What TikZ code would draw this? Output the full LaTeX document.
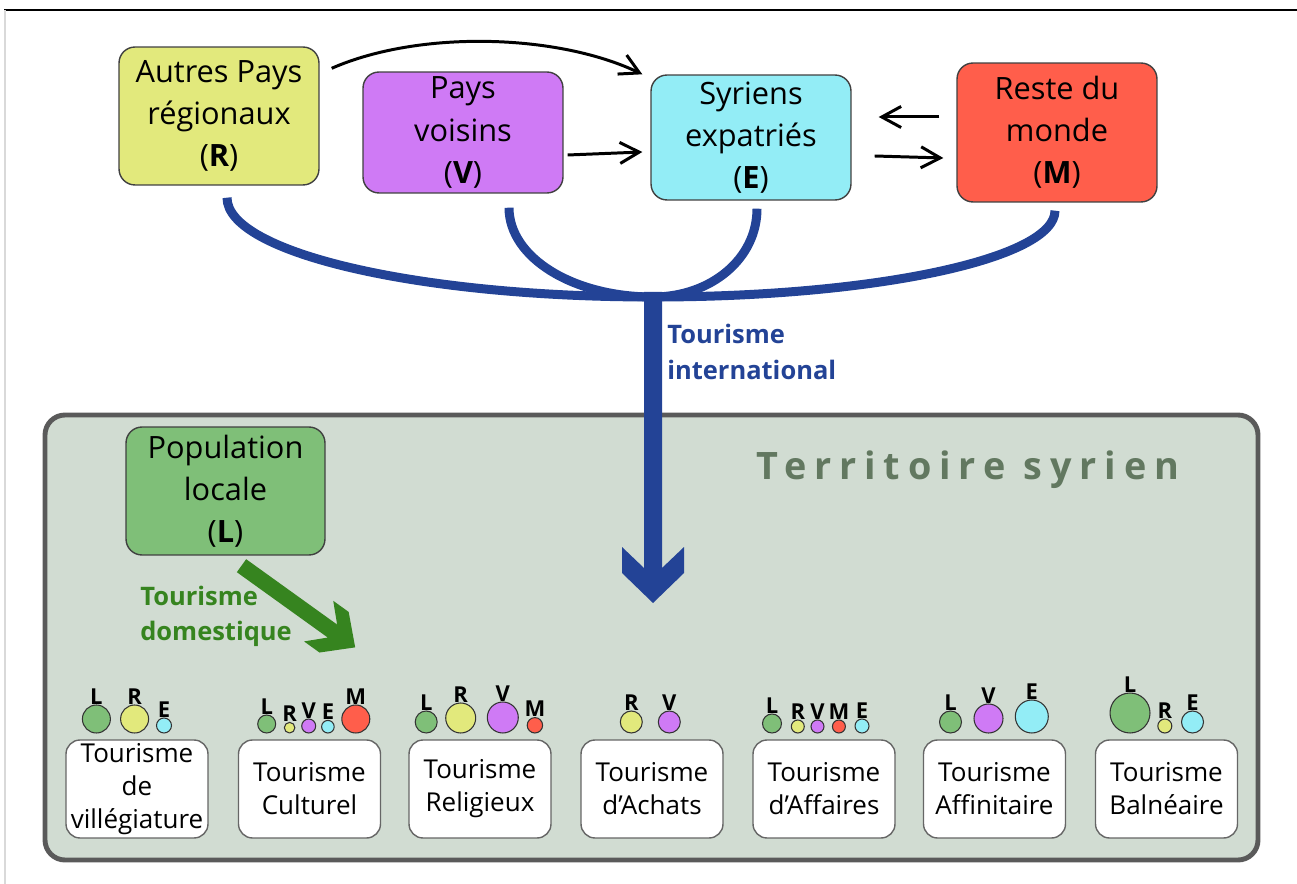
\documentclass[tikz,border=0pt]{standalone}
\usepackage{fontspec}
\setmainfont{Open Sans}
\newfontfamily\terrfont{Open Sans}[LetterSpace=21]
\usetikzlibrary{arrows.meta,calc}

\definecolor{cR}{RGB}{226,233,124}
\definecolor{cV}{RGB}{207,122,245}
\definecolor{cE}{RGB}{147,237,246}
\definecolor{cM}{RGB}{255,94,75}
\definecolor{cL}{RGB}{127,191,120}
\definecolor{terr}{RGB}{209,220,210}
\definecolor{bord}{RGB}{90,90,90}
\definecolor{terrtxt}{RGB}{98,120,96}
\definecolor{bleu}{RGB}{35,67,150}
\definecolor{vert}{RGB}{54,132,31}

\tikzset{
  pays/.style={draw=black!75,line width=0.8pt,rounded corners=0.32cm,minimum width=4cm,align=center,inner sep=0pt,font=\fontsize{17.5}{24}\selectfont},
  forme/.style={draw=black!60,fill=white,line width=0.8pt,rounded corners=0.28cm,minimum width=2.84cm,minimum height=1.96cm,align=center,inner sep=0pt,font=\fontsize{14.8}{18.8}\selectfont},
  bulle/.style={circle,draw=black!80,line width=0.6pt,inner sep=0pt,label distance=0.12cm},
  lettre/.style={inner sep=0pt,font=\bfseries\fontsize{12.5}{14}\selectfont},
  fleche/.style={line width=1.7pt,-{Straight Barb[length=11pt,width=12pt]}},
  flux/.style={line width=0.18cm,draw=bleu,line cap=butt},
  legende/.style={anchor=west,align=left,inner sep=0pt,font=\bfseries\fontsize{14.5}{20}\selectfont}
}

\begin{document}
\begin{tikzpicture}[x=0.02cm,y=-0.02cm,line join=round]
\useasboundingbox (0,0) rectangle (1297,884);
\draw[line width=0.9pt] (4,10) -- (1297,10);
\draw[black!15,line width=0.6pt] (5,10) -- (5,884);

% territoire
\draw[draw=bord,fill=terr,line width=2.8pt,rounded corners=0.4cm] (45,415) rectangle (1258,860);
\node[font=\terrfont\bfseries\fontsize{21.5}{24}\selectfont,text=terrtxt] (ts) at (968,470) {Territoire syrien};

% pays
\node[pays,fill=cR,minimum height=2.76cm] (R) at (219,116) {Autres Pays\\régionaux\\(\textbf{R})};
\node[pays,fill=cV,minimum height=2.42cm] (V) at (463,132.5) {Pays\\voisins\\(\textbf{V})};
\node[pays,fill=cE,minimum height=2.5cm] (E) at (751,137.5) {Syriens\\expatriés\\(\textbf{E})};
\node[pays,fill=cM,minimum height=2.78cm] (M) at (1057,132.5) {Reste du\\monde\\(\textbf{M})};
\node[pays,fill=cL,minimum width=3.98cm,minimum height=2.56cm] (L) at (225.5,491) {Population\\locale\\(\textbf{L})};

\draw[fleche] ($(R.north east)+(12,22)$) .. controls +(89,-39) and +(-83,-40) .. ($(E.north west)+(-8,0)$);
\draw[fleche] ($(V.east)+(4,22.5)$) -- ($(E.west)+(-8,14.5)$);
\draw[fleche] ($(M.west)+(-17,-15.5)$) -- ($(E.east)+(27,-20.5)$);
\draw[fleche] ($(E.east)+(23,18.5)$) -- ($(M.west)+(-13,25.5)$);

% tourisme international
\coordinate (jn) at (653,297);
\draw[flux] ($(R.south)+(8,12)$) .. controls +(0,55) and +(-235,0) .. (jn);
\draw[flux] ($(V.south)+(46,14)$) .. controls +(0,50) and +(-80,0) .. (jn);
\draw[flux] ($(E.south)+(6,8)$) .. controls +(0,50) and +(58,0) .. (jn);
\draw[flux] ($(M.south)+(-2,8)$) .. controls +(0,48) and +(222,0) .. (jn);
\fill[bleu] (644,292) -- (644,568) -- (622,547) -- (622,573) -- (653,603) -- (684,573) -- (684,547) -- (662,568) -- (662,292) -- cycle;
\node[legende,text=bleu] (ti) at (667,352) {Tourisme\\international};

% tourisme domestique
\coordinate (gs) at ($(L.south)+(16,10)$);
\begin{scope}[shift={(gs)},rotate=-35.7]
  \fill[vert] (0,-8) -- (112,-8) -- (95,-25) -- (114,-25) -- (140,0) -- (114,25) -- (95,25) -- (112,8) -- (0,8) -- cycle;
\end{scope}
\node[legende,text=vert] (td) at (140,616) {Tourisme\\domestique};

% formes de tourisme
\foreach \cx/\txt [count=\i] in {137/{Tourisme\\de\\villégiature},309.5/{Tourisme\\Culturel},480/{Tourisme\\Religieux},652/{Tourisme\\d’Achats},824/{Tourisme\\d’Affaires},994.5/{Tourisme\\Affinitaire},1166.5/{Tourisme\\Balnéaire}}
  \node[forme] (t\i) at (\cx,789) {\txt};

\foreach \x/\r/\c/\t [count=\k] in {96.4/14/cL/L,134.6/14/cR/R,164/7.5/cE/E,
  266.7/9/cL/L,289.6/5.3/cR/R,308.7/7/cV/V,327.9/6.3/cE/E,355.8/14/cM/M,
  426.2/11/cL/L,460.7/15/cR/R,502.8/15.5/cV/V,534.9/7.7/cM/M,
  631.3/11/cR/R,669.3/11/cV/V,
  772/9.5/cL/L,797.8/6.5/cR/R,817.5/6.5/cV/V,838.9/6.5/cM/M,862/7/cE/E,
  950.5/11/cL/L,988.5/14.5/cV/V,1031.8/16.5/cE/E,
  1130/20/cL/L,1164.8/7/cR/R,1192.5/11/cE/E}
  \node[bulle,fill=\c,minimum size=\r*0.04cm,label={[lettre]above:\t}] (b\k) at (\x,{733-\r}) {};
\end{tikzpicture}
\end{document}
